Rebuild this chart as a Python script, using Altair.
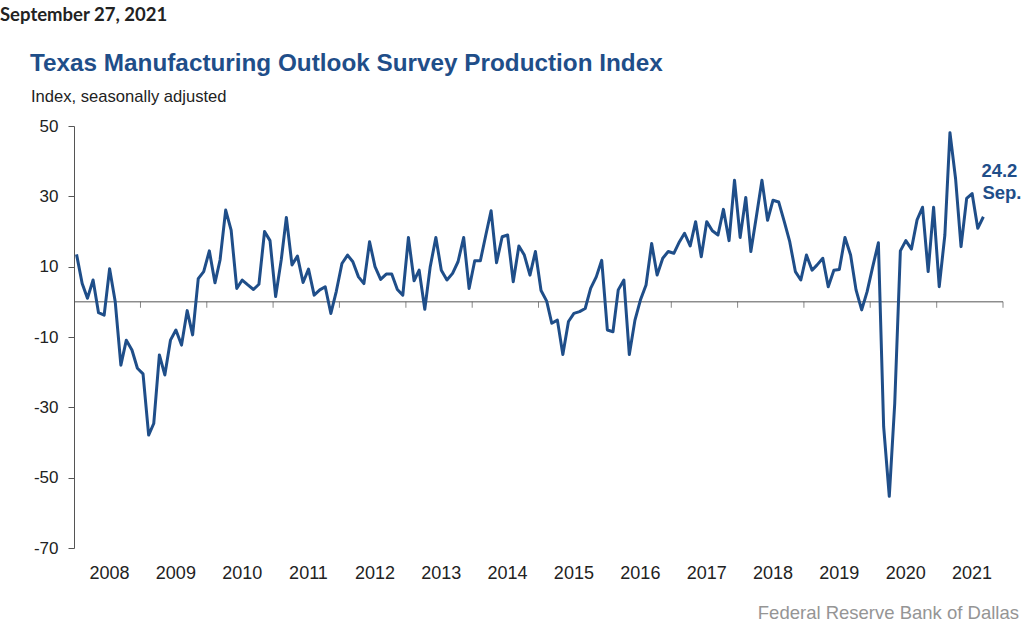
import altair as alt
import pandas as pd

# Monthly production index values, Jan 2008 - Sep 2021
v2008 = [13.5, 5.2, 1.0, 6.2, -3.1, -3.8, 9.4, 0.0, -18.0, -10.9, -13.7, -18.9]
v2009 = [-20.5, -37.9, -34.6, -15.1, -20.8, -10.9, -8.0, -12.3, -2.5, -9.4, 6.6, 8.6]
v2010 = [14.5, 5.4, 11.9, 26.1, 20.4, 3.8, 6.2, 4.8, 3.5, 5.0, 20.0, 17.4]
v2011 = [1.5, 12.0, 24.0, 10.5, 13.0, 5.5, 9.3, 1.9, 3.4, 4.3, -3.3, 3.0]
v2012 = [10.9, 13.3, 11.4, 7.1, 5.2, 17.1, 10.0, 6.4, 7.9, 7.9, 3.5, 1.9]
v2013 = [18.3, 6.0, 9.0, -2.1, 10.0, 18.3, 9.0, 6.2, 8.1, 11.4, 18.3, 3.8]
v2014 = [11.7, 11.7, 18.5, 25.9, 11.1, 18.5, 19.0, 5.7, 15.9, 13.3, 7.6, 14.3]
v2015 = [3.2, 0.2, -6.1, -5.2, -15.0, -5.6, -3.3, -2.8, -1.9, 3.8, 7.1, 11.8]
v2016 = [-8.0, -8.5, 3.4, 6.2, -15.0, -5.2, 0.5, 4.8, 16.6, 7.6, 12.4, 14.3]
v2017 = [13.8, 17.1, 19.5, 15.9, 22.8, 12.8, 22.8, 20.2, 19.0, 26.3, 17.4, 34.6]
v2018 = [18.3, 29.7, 14.3, 24.5, 34.6, 23.2, 28.9, 28.4, 22.8, 17.1, 8.6, 6.2]
v2019 = [13.3, 9.0, 10.5, 12.4, 4.3, 9.0, 9.2, 18.3, 13.3, 3.4, -2.3, 2.9]
v2020 = [10.0, 16.8, -35.5, -55.3, -28.9, 14.5, 17.4, 15.0, 23.3, 26.9, 8.6, 26.9]
v2021 = [4.3, 19.0, 48.1, 35.0, 15.7, 29.4, 30.8, 20.9, 24.2]

years = list(range(2008, 2022))
yearly = [v2008, v2009, v2010, v2011, v2012, v2013, v2014, v2015, v2016,
          v2017, v2018, v2019, v2020, v2021]

y_ticks = [50, 30, 10, -10, -30, -50, -70]
year_boundaries = [f"{y}-01-01" for y in range(2009, 2023)]
year_label_dates = [f"{y}-07-01" for y in years]

title_text = "Texas Manufacturing Outlook Survey Production Index"
subtitle_text = "Index, seasonally adjusted"
date_text = "September 27, 2021"
source_text = "Federal Reserve Bank of Dallas"
last_label = ["24.2", "Sep."]

rows = []
for y, vals in zip(years, yearly):
    for m, v in enumerate(vals):
        rows.append({"date": f"{y}-{m + 1:02d}-15", "value": v})
df = pd.DataFrame(rows)
last = df.iloc[[-1]].copy()

BLUE = "#1f4e89"
GREY = "#555555"
FONT = "Liberation Sans"

x_scale = alt.Scale(domain=["2008-01-01", "2022-01-01"])
y_scale = alt.Scale(domain=[-70, 50], nice=False, zero=False)

x_enc = alt.X(
    "date:T", scale=x_scale, title=None,
    axis=alt.Axis(values=year_label_dates, format="%Y", ticks=False, domain=False,
                  grid=False, labelFontSize=18, labelColor="#222222", labelFont=FONT,
                  labelPadding=16, labelOffset=2, labelFlush=False),
)
y_enc = alt.Y(
    "value:Q", scale=y_scale, title=None,
    axis=alt.Axis(values=y_ticks, grid=False, domainColor=GREY, tickColor=GREY,
                  tickSize=6, labelFontSize=17, labelColor="#222222", labelFont=FONT,
                  labelPadding=10, labelExpr="'' + datum.value"),
)

line = alt.Chart(df).mark_line(color=BLUE, strokeWidth=3, strokeJoin="round").encode(
    x=x_enc, y=y_enc
)

zero = alt.Chart(pd.DataFrame({"v": [0]})).mark_rule(color=GREY, strokeWidth=1).encode(
    y=alt.Y("v:Q", scale=y_scale)
)

ticks = alt.Chart(pd.DataFrame({"date": year_boundaries, "v": [0] * len(year_boundaries)})).mark_tick(
    orient="vertical", size=6, thickness=1, color=GREY, yOffset=3
).encode(x=alt.X("date:T", scale=x_scale), y=alt.Y("v:Q", scale=y_scale))

lab1 = alt.Chart(last).mark_text(
    text=last_label[0], color=BLUE, font=FONT, fontWeight="bold", fontSize=18.5,
    align="left", baseline="middle", dx=-2, dy=-46
).encode(x=alt.X("date:T", scale=x_scale), y=alt.Y("value:Q", scale=y_scale))

lab2 = alt.Chart(last).mark_text(
    text=last_label[1], color=BLUE, font=FONT, fontWeight="bold", fontSize=18.5,
    align="left", baseline="middle", dx=-1, dy=-24
).encode(x=alt.X("date:T", scale=x_scale), y=alt.Y("value:Q", scale=y_scale))

title_lbl = alt.Chart(pd.DataFrame({"t": [title_text]})).mark_text(
    font=FONT, fontWeight="bold", fontSize=24.3, color=BLUE,
    align="left", baseline="alphabetic"
).encode(x=alt.value(30 - 74), y=alt.value(71 - 126), text="t:N")

subtitle_lbl = alt.Chart(pd.DataFrame({"t": [subtitle_text]})).mark_text(
    font=FONT, fontSize=16.6, color="#222222", align="left", baseline="alphabetic"
).encode(x=alt.value(31 - 74), y=alt.value(102 - 126), text="t:N")

date_lbl = alt.Chart(pd.DataFrame({"t": [date_text]})).mark_text(
    font="Lato", fontWeight="bold", fontSize=18.5, color="#222222",
    align="left", baseline="middle"
).encode(x=alt.value(-74), y=alt.value(-111), text="t:N")

source_lbl = alt.Chart(pd.DataFrame({"t": [source_text]})).mark_text(
    font=FONT, fontSize=18.5, color="#959595", align="right", baseline="middle"
).encode(x=alt.value(1019 - 74), y=alt.value(613 - 126), text="t:N")

chart = alt.layer(zero, ticks, line, lab1, lab2, title_lbl, subtitle_lbl,
                  date_lbl, source_lbl).properties(
    width=929,
    height=422,
    background="white",
    padding={"left": 74, "top": 126, "right": 21, "bottom": 85},
    autosize=alt.AutoSizeParams(type="none"),
).configure_view(stroke="transparent", strokeWidth=0)

chart.save("out.html", embed_options={"renderer": "svg", "actions": False})
